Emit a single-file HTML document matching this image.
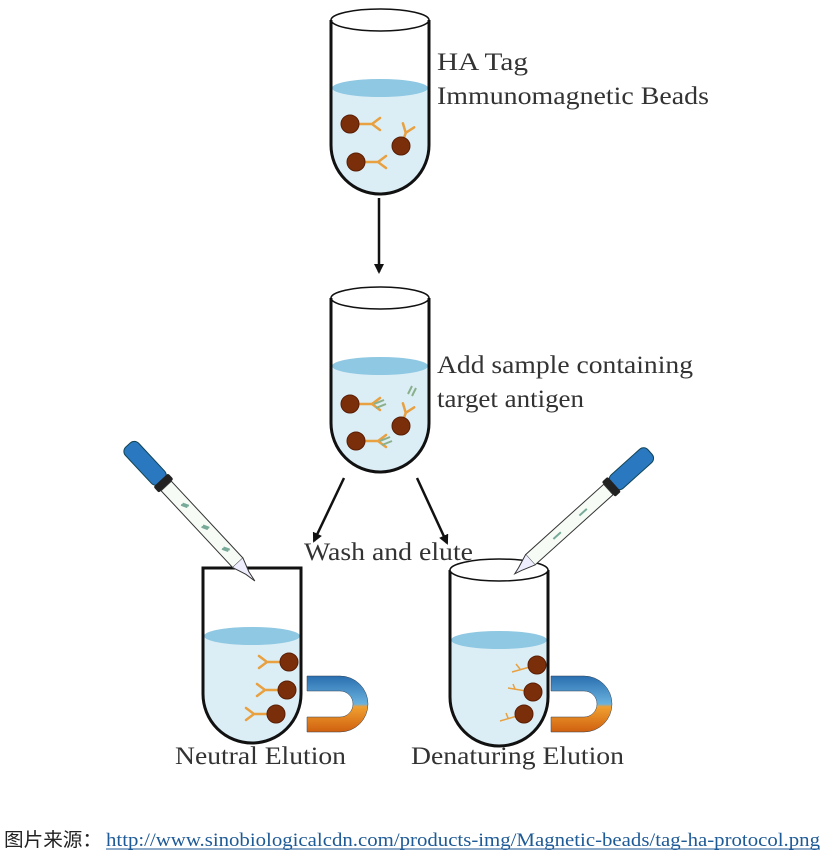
<!DOCTYPE html>
<html><head><meta charset="utf-8"><style>
html,body{margin:0;padding:0;background:#fff;}
svg{display:block;}
</style></head><body>
<svg width="824" height="856" viewBox="0 0 824 856" xmlns="http://www.w3.org/2000/svg">
<defs>
<marker id="ah" markerWidth="10" markerHeight="10" refX="8" refY="5" orient="auto" markerUnits="userSpaceOnUse" viewBox="0 0 10 10">
<path d="M0,0 L10,5 L0,10 Z" fill="#111"/></marker>
<linearGradient id="mag1" x1="0" y1="0" x2="0" y2="1">
<stop offset="0" stop-color="#2a6fb0"/><stop offset="0.5" stop-color="#6ab2de"/><stop offset="0.55" stop-color="#f0a030"/><stop offset="1" stop-color="#d06010"/></linearGradient>
<g id="bead"><circle r="9" fill="#7a2e0a"/><circle r="9" fill="none" stroke="#5a1e05" stroke-width="1"/></g>
<g id="ab" stroke="#e8a040" stroke-width="2.5" fill="none" stroke-linecap="round"><path d="M0,0 L14,0 M14,0 L22,-6 M14,0 L22,6"/></g>
</defs>

<!-- Tube 1 -->
<path d="M331,88 L331,145 A49,49 0 0 0 429,145 L429,88 Z" fill="#dbeef6"/>
<ellipse cx="380" cy="88" rx="48" ry="9" fill="#8fc8e2"/>
<path d="M331,20 L331,145 A49,49 0 0 0 429,145 L429,20" fill="none" stroke="#111" stroke-width="3"/>
<ellipse cx="380" cy="20" rx="49" ry="11" fill="none" stroke="#111" stroke-width="1.5"/>
<use href="#ab" x="358" y="124"/><use href="#bead" x="350" y="124"/>
<use href="#ab" transform="translate(401,146) rotate(-70)"/><use href="#bead" x="401" y="146"/>
<use href="#ab" x="364" y="162"/><use href="#bead" x="356" y="162"/>
<text x="437" y="70" font-family="Liberation Serif, serif" font-size="25" fill="#333" textLength="91" lengthAdjust="spacingAndGlyphs">HA Tag</text>
<text x="437" y="104" font-family="Liberation Serif, serif" font-size="25" fill="#333" textLength="272" lengthAdjust="spacingAndGlyphs">Immunomagnetic Beads</text>

<line x1="379" y1="198" x2="379" y2="272" stroke="#111" stroke-width="2.5" marker-end="url(#ah)"/>

<!-- Tube 2 -->
<path d="M331,366 L331,423 A49,49 0 0 0 429,423 L429,366 Z" fill="#dbeef6"/>
<ellipse cx="380" cy="366" rx="48" ry="9" fill="#8fc8e2"/>
<path d="M331,298 L331,423 A49,49 0 0 0 429,423 L429,298" fill="none" stroke="#111" stroke-width="3"/>
<ellipse cx="380" cy="298" rx="49" ry="11" fill="none" stroke="#111" stroke-width="1.5"/>
<use href="#ab" x="358" y="404"/><use href="#bead" x="350" y="404"/>
<use href="#ab" transform="translate(401,426) rotate(-70)"/><use href="#bead" x="401" y="426"/>
<use href="#ab" x="364" y="441"/><use href="#bead" x="356" y="441"/>
<path d="M374,404 l10,-4 M376,408 l10,-4" stroke="#8ab08a" stroke-width="2"/>
<path d="M412,396 l4,-8 M408,394 l4,-8" stroke="#8ab08a" stroke-width="2"/>
<path d="M380,441 l10,-4 M382,445 l10,-4" stroke="#8ab08a" stroke-width="2"/>
<text x="437" y="373" font-family="Liberation Serif, serif" font-size="25" fill="#333" textLength="256" lengthAdjust="spacingAndGlyphs">Add sample containing</text>
<text x="437" y="407" font-family="Liberation Serif, serif" font-size="25" fill="#333" textLength="147" lengthAdjust="spacingAndGlyphs">target antigen</text>

<line x1="344" y1="478" x2="314" y2="541" stroke="#111" stroke-width="2.5" marker-end="url(#ah)"/>
<line x1="417" y1="478" x2="447" y2="543" stroke="#111" stroke-width="2.5" marker-end="url(#ah)"/>
<text x="304" y="560" font-family="Liberation Serif, serif" font-size="25" fill="#333" textLength="169" lengthAdjust="spacingAndGlyphs">Wash and elute</text>

<!-- Tube 3 -->
<path d="M203,636 L203,694 A49,49 0 0 0 301,694 L301,636 Z" fill="#dbeef6"/>
<ellipse cx="252" cy="636" rx="48" ry="9" fill="#8fc8e2"/>
<path d="M203,568 L203,694 A49,49 0 0 0 301,694 L301,568 Z" fill="none" stroke="#111" stroke-width="3"/>
<use href="#ab" transform="translate(281,662) scale(-1,1)"/><use href="#bead" x="289" y="662"/>
<use href="#ab" transform="translate(279,690) scale(-1,1)"/><use href="#bead" x="287" y="690"/>
<use href="#ab" transform="translate(268,714) scale(-1,1)"/><use href="#bead" x="276" y="714"/>
<!-- magnet 1 -->
<path d="M307,676 L340,676 A28,28 0 0 1 340,732 L307,732 L307,717 L340,717 A13,13 0 0 0 340,691 L307,691 Z" fill="url(#mag1)" stroke="#345" stroke-width="0.5"/>
<!-- pipette left -->
<g transform="translate(128,445) rotate(47)">
<rect x="0" y="-9" width="50" height="18" rx="6" fill="#2a78c0" stroke="#145" stroke-width="1"/>
<rect x="48" y="-10" width="8" height="20" rx="2" fill="#222"/>
<rect x="56" y="-7" width="105" height="14" fill="#f6fbf6" stroke="#333" stroke-width="1"/>
<path d="M161,-7 L175,-2 L186,0 L175,2 L161,7" fill="#eef" stroke="#333" stroke-width="1"/>
<path d="M80,0 l6,-3 M80,2 l6,-3 M110,0 l6,-3 M110,2 l6,-3 M140,0 l6,-3 M140,2 l6,-3" stroke="#7a9" stroke-width="2"/>
</g>
<text x="175" y="764" font-family="Liberation Serif, serif" font-size="25" fill="#333" textLength="171" lengthAdjust="spacingAndGlyphs">Neutral Elution</text>

<!-- Tube 4 -->
<path d="M450,640 L450,697 A49,49 0 0 0 548,697 L548,640 Z" fill="#dbeef6"/>
<ellipse cx="499" cy="640" rx="48" ry="9" fill="#8fc8e2"/>
<path d="M450,570 L450,697 A49,49 0 0 0 548,697 L548,570" fill="none" stroke="#111" stroke-width="3"/>
<ellipse cx="499" cy="570" rx="49" ry="11" fill="#fff" stroke="#111" stroke-width="1.5"/>
<g stroke="#e8a040" stroke-width="1.5" fill="none"><path d="M537,665 L512,672 M520,669 l-4,-5 M532,692 L508,688 M515,689 l-2,-5 M524,714 L500,721 M508,718 l-2,-5"/></g>
<use href="#bead" x="537" y="665"/><use href="#bead" x="533" y="692"/><use href="#bead" x="524" y="714"/>
<path d="M551,676 L584,676 A28,28 0 0 1 584,732 L551,732 L551,717 L584,717 A13,13 0 0 0 584,691 L551,691 Z" fill="url(#mag1)" stroke="#345" stroke-width="0.5"/>
<!-- pipette right -->
<g transform="translate(650,452) rotate(138)">
<rect x="0" y="-9" width="50" height="18" rx="6" fill="#2a78c0" stroke="#145" stroke-width="1"/>
<rect x="48" y="-10" width="8" height="20" rx="2" fill="#222"/>
<rect x="56" y="-7" width="105" height="14" fill="#f6fbf6" stroke="#333" stroke-width="1"/>
<path d="M161,-7 L175,-2 L182,0 L175,2 L161,7" fill="#eef" stroke="#333" stroke-width="1"/>
<path d="M85,0 l10,0 M120,0 l10,0" stroke="#7a9" stroke-width="2"/>
</g>
<text x="411" y="764" font-family="Liberation Serif, serif" font-size="25" fill="#333" textLength="213" lengthAdjust="spacingAndGlyphs">Denaturing Elution</text>

<!-- footer -->
<text x="4" y="846" font-family="Liberation Sans, Noto Sans CJK SC, sans-serif" font-size="19" fill="#222" textLength="98" lengthAdjust="spacingAndGlyphs">图片来源：</text>
<text x="106" y="846" font-family="Liberation Serif, serif" font-size="19" fill="#1e5a96" textLength="714" lengthAdjust="spacingAndGlyphs">http://www.sinobiologicalcdn.com/products-img/Magnetic-beads/tag-ha-protocol.png</text>
<line x1="106" y1="849" x2="820" y2="849" stroke="#1e5a96" stroke-width="1"/>
</svg>
</body></html>
